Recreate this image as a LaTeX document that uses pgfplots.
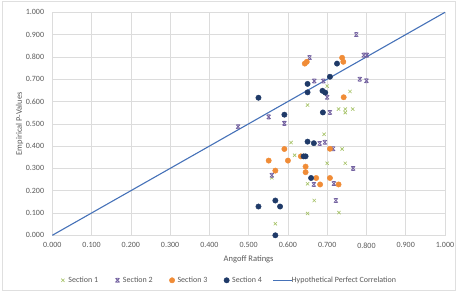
\documentclass[border=0pt]{standalone}
\usepackage{fontspec}
\setmainfont{Carlito}
\usepackage{pgfplots}
\pgfplotsset{compat=1.18}
\definecolor{sOne}{HTML}{A5C266}
\definecolor{sTwo}{HTML}{7361A0}
\definecolor{sThree}{HTML}{F08C37}
\definecolor{sFour}{HTML}{1F3A68}
\definecolor{lineblue}{HTML}{4672B8}
\definecolor{gridc}{HTML}{DCDCDC}
\definecolor{txt}{HTML}{595959}
\pgfdeclareplotmark{xcap}{%
  \pgfpathmoveto{\pgfqpoint{-\pgfplotmarksize}{-\pgfplotmarksize}}%
  \pgfpathlineto{\pgfqpoint{\pgfplotmarksize}{\pgfplotmarksize}}%
  \pgfpathmoveto{\pgfqpoint{-\pgfplotmarksize}{\pgfplotmarksize}}%
  \pgfpathlineto{\pgfqpoint{\pgfplotmarksize}{-\pgfplotmarksize}}%
  \pgfpathmoveto{\pgfqpoint{-0.6\pgfplotmarksize}{\pgfplotmarksize}}%
  \pgfpathlineto{\pgfqpoint{0.6\pgfplotmarksize}{\pgfplotmarksize}}%
  \pgfpathmoveto{\pgfqpoint{-0.6\pgfplotmarksize}{-\pgfplotmarksize}}%
  \pgfpathlineto{\pgfqpoint{0.6\pgfplotmarksize}{-\pgfplotmarksize}}%
  \pgfusepathqstroke}
\pgfplotsset{markleg/.style={legend image code/.code={\draw[##1] plot[only marks] coordinates {(3.5pt,0pt)}; \path[draw=none,fill=none] (0pt,0pt) (7pt,0pt);}}}
\pgfplotsset{lineleg/.style={legend image code/.code={\path[draw=none,fill=none] (0pt,0pt) (12pt,0pt); \draw[overlay, lineblue, line width=1.1pt] (-4.7pt,0pt) -- (14.3pt,0pt);}}}
\begin{document}
\begin{tikzpicture}[x=1pt,y=1pt]
\path[use as bounding box] (0,0) rectangle (457,292);
\draw[gray!25, line width=0.6pt] (2.5,1.5) rectangle (455.5,290.5);
\begin{axis}[
  at={(52.3pt,56.7pt)}, anchor=south west,
  scale only axis, width=392.7pt, height=223pt,
  xmin=0, xmax=1, ymin=0, ymax=1,
  xtick={0,0.1,0.2,0.3,0.4,0.5,0.6,0.7,0.8,0.9,1},
  ytick={0,0.1,0.2,0.3,0.4,0.5,0.6,0.7,0.8,0.9,1},
  grid=major, major grid style={gridc, line width=0.5pt},
  axis line style={gridc, line width=0.5pt},
  tick style={draw=none},
  /pgf/number format/assume math mode=true,
  /pgf/number format/.cd, fixed, fixed zerofill, precision=3, /pgfplots/.cd,
  ticklabel style={font=\fontsize{8}{9}\selectfont, text=txt, inner sep=0pt},
  xticklabel style={anchor=center, yshift=-10pt},
  yticklabel style={anchor=east, xshift=-8pt},
  xlabel={Angoff Ratings}, ylabel={Empirical P-Values},
  label style={font=\fontsize{8.5}{10}\selectfont, text=txt},
  xlabel style={at={(axis description cs:0.5,-0.1076)}, anchor=center},
  ylabel style={at={(axis description cs:-0.0835,0.5)}, anchor=center},
  legend columns=5,
  legend style={at={(0.0176,-0.2018)}, anchor=west, draw=none, fill=none,
    inner sep=0pt,
    font=\fontsize{8}{9}\selectfont, text=txt,
    /tikz/every even column/.append style={column sep=13.8pt}},
  legend cell align=left,
  clip=false,
]
\addplot[only marks, mark=x, mark size=2.3pt, sOne, line width=0.6pt, markleg] coordinates {
(0.700,0.669) (0.758,0.645) (0.650,0.584) (0.729,0.566) (0.746,0.566)
(0.746,0.550) (0.765,0.566) (0.692,0.453) (0.608,0.416) (0.738,0.387)
(0.617,0.359) (0.700,0.323) (0.746,0.323) (0.559,0.258) (0.650,0.231)
(0.667,0.156) (0.650,0.098) (0.730,0.102) (0.568,0.052)
};
\addlegendentry{Section 1}
\addplot[only marks, mark=xcap, mark size=2.0pt, sTwo, line width=0.8pt, markleg] coordinates {
(0.774,0.900) (0.793,0.808) (0.801,0.808) (0.655,0.797) (0.667,0.692)
(0.690,0.692) (0.783,0.700) (0.800,0.693) (0.700,0.619) (0.707,0.551)
(0.551,0.531) (0.591,0.502) (0.473,0.487) (0.681,0.412) (0.694,0.417)
(0.715,0.388) (0.766,0.300) (0.559,0.269) (0.666,0.228) (0.717,0.232)
(0.722,0.156)
};
\addlegendentry{Section 2}
\addplot[only marks, mark=*, mark size=2.7pt, sThree, draw=none, fill=sThree, markleg] coordinates {
(0.643,0.770) (0.648,0.778) (0.738,0.796) (0.741,0.778) (0.742,0.619)
(0.591,0.387) (0.707,0.388) (0.633,0.354) (0.551,0.335) (0.600,0.335)
(0.645,0.308) (0.568,0.290) (0.645,0.283) (0.672,0.257) (0.707,0.257)
(0.682,0.228) (0.729,0.228)
};
\addlegendentry{Section 3}
\addplot[only marks, mark=*, mark size=2.7pt, sFour, draw=none, fill=sFour, markleg] coordinates {
(0.725,0.770) (0.707,0.711) (0.650,0.679) (0.650,0.641) (0.688,0.648)
(0.695,0.640) (0.525,0.617) (0.689,0.551) (0.591,0.541) (0.650,0.420)
(0.666,0.413) (0.640,0.354) (0.645,0.354) (0.659,0.257) (0.568,0.156)
(0.525,0.129) (0.580,0.129) (0.568,0.000)
};
\addlegendentry{Section 4}
\addplot[lineblue, line width=1.1pt, no marks, lineleg] coordinates {(0,0) (1,1)};
\addlegendentry{Hypothetical Perfect Correlation}
\end{axis}
\end{tikzpicture}
\end{document}
